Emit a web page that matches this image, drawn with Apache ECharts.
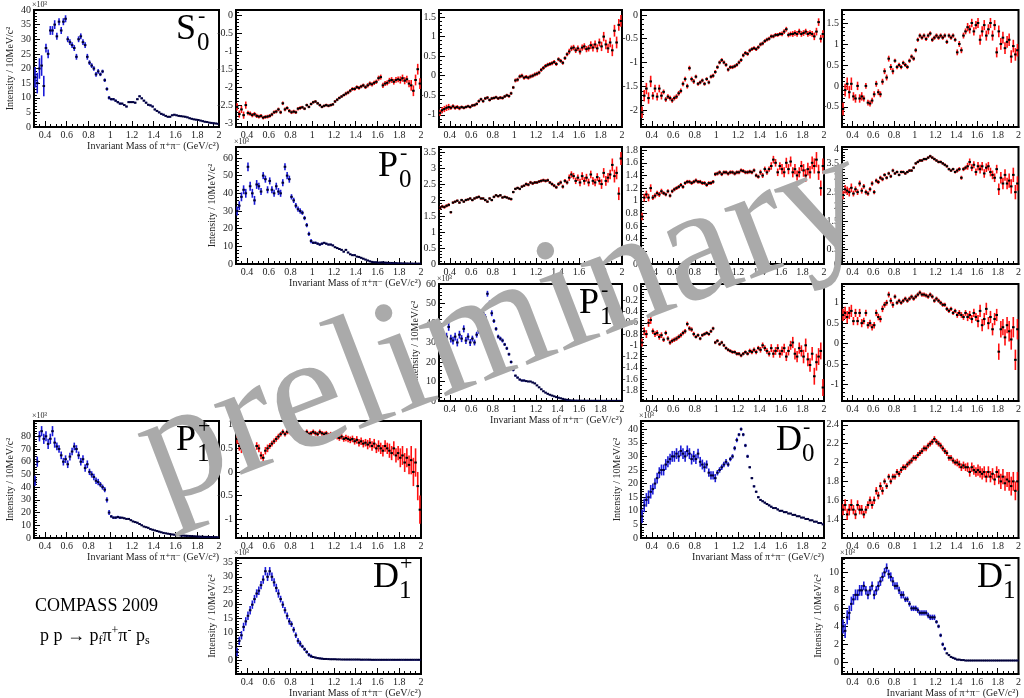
<!DOCTYPE html>
<html>
<head>
<meta charset="utf-8">
<script src="https://cdn.jsdelivr.net/npm/echarts@6.0.0/dist/echarts.min.js"></script>
<style>
html,body{margin:0;padding:0;background:#fff;}
#chart{width:1024px;height:698px;}
</style>
</head>
<body>
<div id="chart"></div>
<script>
// ================= DATA =================
const massBins = [
 0.31,0.33,0.35,0.37,0.39, 0.41,0.43,0.45,0.47,0.49, 0.51,0.53,0.55,0.57,0.59, 0.61,0.63,0.65,0.67,0.69,
 0.71,0.73,0.75,0.77,0.79, 0.81,0.83,0.85,0.87,0.89, 0.91,0.93,0.95,0.97,0.99, 1.01,1.03,1.05,1.07,1.09,
 1.11,1.13,1.15,1.17,1.19, 1.21,1.23,1.25,1.27,1.29, 1.31,1.33,1.35,1.37,1.39, 1.41,1.43,1.45,1.47,1.49,
 1.51,1.53,1.55,1.57,1.59, 1.61,1.63,1.65,1.67,1.69, 1.71,1.73,1.75,1.77,1.79, 1.81,1.83,1.85,1.87,1.89,
 1.91,1.93,1.95,1.97,1.99];
// error-bar half sizes, one per 0.1 GeV segment (0.3-0.4, 0.4-0.5, ... 1.9-2.0)

// S0- intensity (x10^3)
const intS0m = [17,15,20,21,14, 27,25,33,33,35, 31,36,33,36,37, 30,29,28,27,24, 30,31,29,28,24, 22,21,20,18,19,
 18,19,16,13,10, 9.5,9.5,9,8.5,8, 8,7.5,7,8.5,8.5, 8.5,8.3,9.5,10.5,9.8, 9,8.3,7.6,7.4,7, 6,5.5,5,4.5,4.2,
 3.8,3.5,3.5,4,4.2, 4,3.8,3.7,3.6,3.5, 3.3,3,2.8,2.6,2.5, 2.4,2.2,2,1.8,1.7, 1.5,1.4,1.3,1.2,1.1];
const errS0m = [3.5,1.5,1.2,1.0,1.0,0.8,0.6,0.4,0.3,0.3,0.3,0.3,0.25,0.2,0.2,0.2,0.2];

const phR1C2 = [-2.55,-2.75,-2.62,-2.78,-2.5, -2.72,-2.74,-2.78,-2.75,-2.8, -2.82,-2.8,-2.85,-2.83,-2.82, -2.8,-2.76,-2.7,-2.68,-2.62,
 -2.7,-2.45,-2.62,-2.58,-2.66, -2.7,-2.68,-2.7,-2.6,-2.58, -2.56,-2.6,-2.5,-2.55,-2.47, -2.42,-2.4,-2.45,-2.5,-2.55,
 -2.52,-2.5,-2.52,-2.5,-2.48, -2.4,-2.35,-2.3,-2.26,-2.22, -2.18,-2.15,-2.1,-2.05,-2.05, -2.0,-2.02,-1.98,-1.95,-2.0,
 -1.95,-1.9,-1.92,-1.88,-1.85, -1.75,-1.72,-1.95,-1.9,-1.88, -1.82,-1.8,-1.85,-1.8,-1.78, -1.8,-1.75,-1.82,-1.78,-1.9,
 -1.95,-2.1,-1.8,-1.5,-1.9];
const errR1C2 = [0.1,0.06,0.05,0.05,0.05,0.05,0.04,0.04,0.04,0.04,0.05,0.05,0.06,0.07,0.08,0.1,0.15];

const phR1C3 = [-0.95,-0.88,-0.85,-0.82,-0.8, -0.82,-0.78,-0.82,-0.8,-0.83, -0.8,-0.82,-0.8,-0.78,-0.8, -0.76,-0.75,-0.72,-0.65,-0.6,
 -0.65,-0.58,-0.56,-0.62,-0.58, -0.57,-0.55,-0.58,-0.56,-0.57, -0.53,-0.5,-0.52,-0.45,-0.3, -0.12,-0.1,-0.02,0,-0.05,
 -0.03,-0.05,-0.02,0,0.03, 0.05,0.08,0.15,0.2,0.25, 0.28,0.3,0.32,0.35,0.3, 0.42,0.38,0.33,0.45,0.55,
 0.62,0.7,0.72,0.65,0.7, 0.62,0.72,0.75,0.68,0.7, 0.78,0.72,0.8,0.7,0.85, 0.75,1.0,0.8,0.7,0.85,
 0.65,1.15,0.85,1.3,1.4];
const errR1C3 = [0.08,0.05,0.04,0.04,0.04,0.04,0.04,0.05,0.05,0.05,0.05,0.05,0.07,0.08,0.1,0.12,0.15];

const phR1C4 = [-2.05,-1.7,-1.55,-1.75,-1.4, -1.7,-1.55,-1.72,-1.55,-1.7, -1.62,-1.78,-1.72,-1.75,-1.8, -1.75,-1.72,-1.65,-1.6,-1.45,
 -1.35,-1.5,-1.12,-1.35,-1.4, -1.3,-1.45,-1.42,-1.38,-1.45, -1.35,-1.42,-1.3,-1.28,-1.2, -1.1,-1.0,-0.95,-1.0,-1.05,
 -1.15,-1.1,-1.1,-1.08,-1.05, -1.0,-0.95,-0.85,-0.8,-0.82, -0.75,-0.72,-0.7,-0.72,-0.68, -0.62,-0.6,-0.55,-0.52,-0.5,
 -0.45,-0.45,-0.42,-0.42,-0.4, -0.4,-0.35,-0.3,-0.42,-0.4, -0.4,-0.38,-0.4,-0.35,-0.4, -0.38,-0.35,-0.4,-0.38,-0.4,
 -0.45,-0.35,-0.15,-0.5,-0.4];
const errR1C4 = [0.12,0.08,0.05,0.05,0.05,0.04,0.04,0.04,0.04,0.04,0.04,0.04,0.04,0.05,0.06,0.06,0.08];

const phR1C5 = [-0.55,-0.1,0.05,-0.15,0.05, -0.25,-0.3,0,-0.3,-0.25, -0.3,0,-0.4,-0.42,-0.35, -0.2,0.05,-0.15,-0.2,0.1,
 0.35,0.2,0.65,0.45,0.35, 0.6,0.45,0.5,0.45,0.55, 0.5,0.45,0.6,0.7,0.65, 0.85,1.1,1.2,1.15,1.2,
 1.12,1.2,1.25,1.1,1.15, 1.2,1.15,1.2,1.15,1.2, 1.05,1.2,1.15,1.2,1.1, 0.8,1.0,0.85,1.2,1.3,
 1.4,1.35,1.5,1.3,1.45, 1.5,1.1,1.3,1.45,1.2, 1.35,1.5,1.2,1.45,0.8, 1.3,1.0,1.15,0.9,1.05,
 1.1,0.7,0.95,0.75,0.85];
const errR1C5 = [0.15,0.1,0.07,0.07,0.07,0.05,0.05,0.05,0.05,0.05,0.05,0.07,0.1,0.12,0.12,0.14,0.15];

// P0- intensity (x10^3)
const intP0m = [30,33,38,42,40, 55,44,40,36,45, 44,41,50,48,42, 47,42,40,44,41, 40,46,55,50,48, 38,36,33,31,30,
 29,26,22,17,13, 12,12,11.5,11,11.5, 12,11.5,11,11,10.5, 9.5,9,8.5,8,7, 8,6.5,5.5,5,5, 4.2,4,3.5,3,2.5,
 2,1.5,1.2,1,1, 0.8,0.9,1,0.8,0.7, 0.6,0.6,0.5,0.5,0.4, 0.4,0.35,0.3,0.3,0.25, 0.25,0.2,0.2,0.2,0.2];
const errP0m = [2.5,2.5,2.0,2.0,2.0,1.5,1.2,0.7,0.5,0.4,0.4,0.3,0.3,0.2,0.2,0.2,0.2];

const phR2C3 = [1.75,1.8,1.78,1.82,1.85, 1.62,1.92,1.95,1.98,1.92, 2.0,1.95,2.0,2.02,2.05, 2.0,2.05,2.08,2.1,2.05,
 2.05,2.0,1.95,2.05,2.0, 2.1,2.15,2.12,2.15,2.08, 2.1,2.08,2.05,2.03,2.25, 2.35,2.38,2.35,2.42,2.45,
 2.5,2.48,2.55,2.52,2.55, 2.55,2.58,2.6,2.62,2.6, 2.62,2.55,2.5,2.45,2.4, 2.5,2.55,2.42,2.6,2.55,
 2.7,2.8,2.75,2.6,2.7, 2.55,2.75,2.6,2.7,2.55, 2.8,2.6,2.55,2.72,2.6, 2.5,2.85,2.6,2.7,2.8,
 3.1,2.75,2.85,2.2,3.3];
const errR2C3 = [0.05,0.04,0.04,0.04,0.04,0.04,0.04,0.04,0.05,0.05,0.05,0.06,0.1,0.12,0.12,0.15,0.2];

const phR2C4 = [0.75,1.05,1.1,1.05,1.2, 1.05,1.08,1.12,1.1,1.15, 1.12,1.1,1.15,1.08,1.15, 1.18,1.2,1.22,1.25,1.22,
 1.28,1.3,1.3,1.28,1.3, 1.32,1.3,1.3,1.28,1.28, 1.25,1.28,1.28,1.3,1.42, 1.43,1.45,1.42,1.45,1.45,
 1.43,1.45,1.45,1.43,1.45, 1.45,1.48,1.47,1.45,1.45, 1.46,1.45,1.48,1.4,1.38, 1.45,1.4,1.5,1.45,1.5,
 1.55,1.65,1.6,1.45,1.55, 1.5,1.45,1.6,1.5,1.62, 1.45,1.5,1.4,1.45,1.55, 1.48,1.4,1.5,1.45,1.6,
 1.55,1.65,1.45,1.2,1.55];
const errR2C4 = [0.06,0.04,0.03,0.03,0.03,0.03,0.03,0.03,0.03,0.03,0.03,0.04,0.06,0.08,0.08,0.1,0.12];

const phR2C5 = [2.4,2.6,2.55,2.5,2.65, 2.45,2.6,2.5,2.8,2.55, 2.7,2.5,2.45,2.6,2.8, 2.5,2.9,2.85,3.0,2.95,
 3.1,3.0,3.15,3.05,3.25, 3.15,3.2,3.1,3.2,3.2, 3.15,3.2,3.25,3.25,3.35, 3.5,3.55,3.6,3.6,3.65,
 3.65,3.7,3.75,3.7,3.65, 3.6,3.55,3.55,3.5,3.45, 3.4,3.3,3.25,3.3,3.2, 3.25,3.3,3.0,3.3,3.35,
 3.4,3.55,3.35,3.45,3.2, 3.4,3.3,3.4,3.15,3.35, 3.4,3.2,3.1,3.0,3.3, 2.6,3.0,2.8,3.1,2.8,
 2.9,2.7,3.1,2.5,2.8];
const errR2C5 = [0.15,0.1,0.08,0.07,0.06,0.05,0.05,0.05,0.05,0.05,0.05,0.07,0.12,0.15,0.15,0.2,0.25];

// P1- intensity (x10^3)
const intP1m = [26,32,30,33,38, 32,31,33,30,34, 32,37,31,33,30, 32,30,34,36,42, 45,43,55,50,45, 41,37,33,32,31,
 29,27,24,20,16, 13,12,11,10.5,10.5, 10.2,10,10,9.5,9, 8,7,6,5,4.3, 3.7,3.2,2.8,2.4,2.0, 1.7,1.4,1.1,0.8,0.6,
 0.4,0.3,0.25,0.2,0.18, 0.15,0.15,0.12,0.12,0.1, 0.1,0.1,0.1,0.08,0.08, 0.08,0.07,0.07,0.06,0.06, 0.06,0.05,0.05,0.05,0.05];
const errP1m = [2.0,2.0,1.8,1.5,1.5,1.0,0.8,0.5,0.3,0.3,0.2,0.2,0.15,0.1,0.1,0.1,0.1];

const phR3C4 = [-0.95,-0.75,-0.8,-0.6,-0.55, -0.75,-0.8,-0.78,-0.85,-0.82, -0.9,-0.78,-0.88,-0.95,-0.92, -0.9,-0.88,-0.85,-0.82,-0.78,
 -0.75,-0.62,-0.7,-0.72,-0.8, -0.85,-0.82,-0.88,-0.82,-0.8, -0.78,-0.8,-0.75,-0.7,-0.95, -0.92,-0.98,-0.95,-1.0,-1.05,
 -1.08,-1.1,-1.12,-1.12,-1.15, -1.15,-1.18,-1.15,-1.12,-1.15, -1.1,-1.12,-1.08,-1.12,-1.05, -1.08,-1.0,-1.05,-1.1,-1.15,
 -1.05,-1.15,-1.1,-1.05,-1.15, -1.1,-1.05,-1.2,-1.1,-1.0, -0.95,-1.15,-1.2,-1.05,-1.1, -1.2,-1.0,-1.25,-1.35,-1.15,
 -1.55,-1.3,-1.2,-1.1,-1.75];
const errR3C4 = [0.07,0.05,0.04,0.04,0.04,0.03,0.03,0.03,0.03,0.03,0.04,0.05,0.07,0.08,0.1,0.12,0.15];

const phR3C5 = [0.7,0.75,0.65,0.75,0.8, 0.55,0.75,0.55,0.75,0.5, 0.55,0.75,0.45,0.5,0.4, 0.45,0.75,0.65,0.6,0.85,
 0.95,1.0,1.2,1.05,0.95, 1.15,1.0,1.05,1.0,1.05, 1.1,1.05,1.1,1.15,1.1, 1.15,1.2,1.25,1.2,1.2,
 1.18,1.15,1.2,1.15,1.05, 1.1,1.05,1.0,0.95,0.95, 0.85,0.8,0.85,0.75,0.8, 0.7,0.75,0.7,0.65,0.75,
 0.65,0.7,0.6,0.75,0.65, 0.55,0.8,0.45,0.6,0.85, 0.5,0.65,0.35,0.6,0.7, -0.2,0.35,0.4,0.15,0.45,
 0.3,0.1,0.4,-0.4,0.35];
const errR3C5 = [0.15,0.1,0.08,0.08,0.07,0.05,0.05,0.05,0.05,0.05,0.05,0.07,0.1,0.15,0.15,0.2,0.25];

// P1+ intensity (x10^3)
const intP1p = [45,60,80,84,78, 80,74,78,84,75, 72,70,65,60,62, 58,64,68,72,70, 65,60,62,55,58, 52,50,48,45,44,
 42,40,38,30,20, 17,16,16,16.5,16, 16,15.5,15,15,14, 13,12.5,12,11,10, 9,8.5,8,7,6.5, 6,5.5,5,4.5,4,
 3.7,3.4,3.1,2.8,2.6, 2.4,2.2,2,1.9,1.8, 1.7,1.6,1.5,1.4,1.3, 1.2,1.1,1.0,0.9,0.9, 0.8,0.8,0.7,0.7,0.6];
const errP1p = [4,4,3,3,3,2.5,2,1,0.6,0.5,0.4,0.3,0.3,0.2,0.2,0.2,0.2];

const phR4C2 = [0.7,0.55,0.5,0.6,0.55, 0.45,0.6,0.5,0.4,0.55, 0.5,0.35,0.3,0.45,0.5, 0.55,0.6,0.65,0.7,0.75,
 0.8,0.85,0.8,0.85,0.85, 0.82,0.8,0.85,0.82,0.85, 0.8,0.82,0.85,0.8,0.82, 0.85,0.82,0.8,0.85,0.82,
 0.8,0.82,0.78,0.8,0.75, 0.78,0.75,0.72,0.75,0.7, 0.72,0.7,0.68,0.7,0.65, 0.68,0.62,0.65,0.6,0.62,
 0.58,0.62,0.55,0.6,0.5, 0.55,0.5,0.45,0.55,0.5, 0.45,0.4,0.5,0.35,0.4, 0.3,0.35,0.2,0.3,0.15,
 0.25,0.0,0.2,-0.3,-0.8];
const errR4C2 = [0.1,0.08,0.08,0.06,0.05,0.05,0.05,0.05,0.05,0.06,0.07,0.08,0.1,0.12,0.15,0.2,0.3];

// D0- intensity (x10^3)
const intD0m = [8,12,14,15,17, 18,20,22,24,25, 25,27,28,29,30, 30,31,30,32,31, 30,32,31,29,30, 29,31,28,27,26,
 27,24,23,23,22, 24,25,26,27,28, 27,29,30,33,36, 38,40,38,34,30, 26,22,19,17,15, 14,13.5,13,12.5,12,
 11.5,11,11,10.5,10, 10,9.5,9.5,9,9, 8.5,8.5,8,8,7.5, 7.5,7,7,6.5,6.5, 6,6,5.5,5.5,5];
const errD0m = [2.5,2,2,2,2,1.8,1.5,1,0.8,0.6,0.4,0.3,0.3,0.2,0.2,0.2,0.2];

const phR4C5 = [1.5,1.55,1.45,1.5,1.55, 1.5,1.45,1.55,1.5,1.5, 1.45,1.5,1.55,1.6,1.55, 1.6,1.7,1.65,1.75,1.7,
 1.8,1.75,1.85,1.8,1.85, 1.85,1.9,1.88,1.92,1.95, 1.95,1.98,2.0,2.02,2.05, 2.05,2.08,2.1,2.12,2.15,
 2.15,2.18,2.2,2.22,2.25, 2.22,2.2,2.18,2.15,2.12, 2.1,2.05,2.05,2.02,2.0, 2.0,1.98,1.95,1.97,1.95,
 1.95,1.9,1.95,1.92,1.9, 1.92,1.9,1.88,1.9,1.85, 1.9,1.85,1.88,1.82,1.9, 1.85,1.8,1.85,1.78,1.82,
 1.8,1.75,1.8,1.7,1.8];
const errR4C5 = [0.06,0.05,0.04,0.04,0.03,0.03,0.03,0.03,0.03,0.03,0.03,0.04,0.05,0.06,0.06,0.08,0.1];

// D1+ intensity (x10^3)
const intD1p = [3,7,9,12,14, 16,18,20,22,24, 25,27,29,32,30, 32,30,28,26,24, 22,20,18,16,14, 13,11,9,7,6,
 5,4,3,2,1.5, 1.2,1,0.8,0.7,0.6, 0.5,0.5,0.45,0.4,0.4, 0.4,0.35,0.35,0.3,0.3, 0.3,0.3,0.3,0.3,0.3, 0.3,0.3,0.25,0.25,0.25,
 0.25,0.25,0.2,0.2,0.2, 0.2,0.2,0.2,0.2,0.2, 0.2,0.2,0.2,0.2,0.2, 0.2,0.2,0.2,0.2,0.2, 0.2,0.2,0.2,0.2,0.2];
const errD1p = [1.5,1.5,1.5,1.5,1.2,1.0,0.6,0.3,0.2,0.15,0.1,0.1,0.1,0.1,0.1,0.1,0.1];

// D1- intensity (x10^3)
const intD1m = [4,3.5,5,5.5,6.5, 7,7.5,7.5,8,8, 8.5,8,7.5,8,8.5, 7.5,8,8.5,9,9.5, 10,10.5,9.8,9.5,9, 8.5,8.5,8,7.5,7.5,
 7,7,6.5,6,6, 6,5.8,5.5,5.5,5.5, 5.5,5.2,5,5,5, 4.5,4,3,2,1.5, 1,0.8,0.6,0.5,0.4, 0.3,0.3,0.25,0.25,0.2,
 0.2,0.2,0.2,0.2,0.2, 0.2,0.2,0.2,0.2,0.2, 0.2,0.2,0.2,0.2,0.2, 0.2,0.2,0.2,0.2,0.2, 0.2,0.2,0.2,0.2,0.2];
const errD1m = [0.8,0.6,0.5,0.5,0.5,0.4,0.3,0.3,0.3,0.2,0.1,0.05,0.05,0.05,0.05,0.05,0.05];

// tick labels
const xTickLabels = [0.4,0.6,0.8,1,1.2,1.4,1.6,1.8,2];
const yTicksS0m = [0,5,10,15,20,25,30,35,40];
const yTicksR1C2 = [-3,-2.5,-2,-1.5,-1,-0.5,0];
const yTicksR1C3 = [-1,-0.5,0,0.5,1,1.5];
const yTicksR1C4 = [-2,-1.5,-1,-0.5,0];
const yTicksR1C5 = [-0.5,0,0.5,1,1.5];
const yTicksP0m = [0,10,20,30,40,50,60];
const yTicksR2C3 = [0,0.5,1,1.5,2,2.5,3,3.5];
const yTicksR2C4 = [0,0.2,0.4,0.6,0.8,1,1.2,1.4,1.6,1.8];
const yTicksR2C5 = [0,0.5,1,1.5,2,2.5,3,3.5,4];
const yTicksP1m = [0,10,20,30,40,50,60];
const yTicksR3C4 = [-1.8,-1.6,-1.4,-1.2,-1,-0.8,-0.6,-0.4,-0.2,0];
const yTicksR3C5 = [-1,-0.5,0,0.5,1];
const yTicksP1p = [0,10,20,30,40,50,60,70,80];
const yTicksR4C2 = [-1,-0.5,0,0.5,1];
const yTicksD0m = [0,5,10,15,20,25,30,35,40];
const yTicksR4C5 = [1.4,1.6,1.8,2,2.2,2.4];
const yTicksD1p = [0,5,10,15,20,25,30,35];
const yTicksD1m = [0,2,4,6,8,10];

// ================= LAYOUT =================
const colLeft = [34,236,439,641,842], colWidth = [185,185,183,183,183];
const rowTop = [10,147,284,421,558], rowHeight = 117;
const panels = [
 {r:0,c:0,kind:'int',data:intS0m,err:errS0m,yMin:0,yMax:40,yT:yTicksS0m,yMinor:1,lab:['S','0','-']},
 {r:0,c:1,kind:'ph',data:phR1C2,err:errR1C2,yMin:-3.11,yMax:0.15,yT:yTicksR1C2,yMinor:0.1},
 {r:0,c:2,kind:'ph',data:phR1C3,err:errR1C3,yMin:-1.31,yMax:1.68,yT:yTicksR1C3,yMinor:0.1},
 {r:0,c:3,kind:'ph',data:phR1C4,err:errR1C4,yMin:-2.36,yMax:0.105,yT:yTicksR1C4,yMinor:0.1},
 {r:0,c:4,kind:'ph',data:phR1C5,err:errR1C5,yMin:-0.98,yMax:1.81,yT:yTicksR1C5,yMinor:0.1},
 {r:1,c:1,kind:'int',data:intP0m,err:errP0m,yMin:0,yMax:66.2,yT:yTicksP0m,yMinor:2,lab:['P','0','-']},
 {r:1,c:2,kind:'ph',data:phR2C3,err:errR2C3,yMin:0,yMax:3.66,yT:yTicksR2C3,yMinor:0.1},
 {r:1,c:3,kind:'ph',data:phR2C4,err:errR2C4,yMin:0,yMax:1.85,yT:yTicksR2C4,yMinor:0.05},
 {r:1,c:4,kind:'ph',data:phR2C5,err:errR2C5,yMin:0,yMax:4.07,yT:yTicksR2C5,yMinor:0.1},
 {r:2,c:2,kind:'int',data:intP1m,err:errP1m,yMin:0,yMax:60,yT:yTicksP1m,yMinor:2,lab:['P','1','-']},
 {r:2,c:3,kind:'ph',data:phR3C4,err:errR3C4,yMin:-1.99,yMax:0.09,yT:yTicksR3C4,yMinor:0.05},
 {r:2,c:4,kind:'ph',data:phR3C5,err:errR3C5,yMin:-1.41,yMax:1.46,yT:yTicksR3C5,yMinor:0.1},
 {r:3,c:0,kind:'int',data:intP1p,err:errP1p,yMin:0,yMax:92,yT:yTicksP1p,yMinor:2,lab:['P','1','+']},
 {r:3,c:1,kind:'ph',data:phR4C2,err:errR4C2,yMin:-1.4,yMax:1.08,yT:yTicksR4C2,yMinor:0.1},
 {r:3,c:3,kind:'int',data:intD0m,err:errD0m,yMin:0,yMax:43,yT:yTicksD0m,yMinor:1,lab:['D','0','-']},
 {r:3,c:4,kind:'ph',data:phR4C5,err:errR4C5,yMin:1.2,yMax:2.44,yT:yTicksR4C5,yMinor:0.05},
 {r:4,c:1,kind:'int',data:intD1p,err:errD1p,yMin:-4.9,yMax:36.75,yT:yTicksD1p,yMinor:1,lab:['D','1','+']},
 {r:4,c:4,kind:'int',data:intD1m,err:errD1m,yMin:-1.3,yMax:11.6,yT:yTicksD1m,yMinor:0.5,lab:['D','1','-']}
];
const letterWidth = {S:21, P:21, D:26};

const FONT = "'Liberation Serif','DejaVu Serif',serif";
function fmt(v){ return String(Math.round(v*1000)/1000); }
function minorVals(min, max, step, majors){
  const out = [];
  const start = Math.ceil(min/step - 1e-6);
  const end = Math.floor(max/step + 1e-6);
  for (let k = start; k <= end; k++) {
    const v = Math.round(k*step*10000)/10000;
    if (!majors.some(m => Math.abs(m - v) < 1e-6)) out.push(v);
  }
  return out;
}
function makeRender(barColor, markColor){
  return function(params, api){
    const x = api.value(0), y = api.value(1), e = api.value(2);
    const c = api.coord([x, y]);
    const t = api.coord([x, y + e]);
    const b = api.coord([x, y - e]);
    return {type:'group', children:[
      {type:'rect', shape:{x:c[0]-0.8, y:t[1], width:1.6, height:Math.max(1, b[1]-t[1])}, style:{fill:barColor}},
      {type:'rect', shape:{x:c[0]-1.3, y:c[1]-1, width:2.6, height:2}, style:{fill:markColor}}
    ]};
  };
}

const grids = [], xAxes = [], yAxes = [], series = [], graphics = [];
const xMinor = minorVals(0.3, 2.0, 0.05, xTickLabels);

panels.forEach((p, i) => {
  const left = colLeft[p.c], top = rowTop[p.r], w = colWidth[p.c], h = rowHeight;
  grids.push({left:left, top:top, width:w, height:h, show:true, borderColor:'#000', borderWidth:2});
  const isInt = p.kind === 'int';
  xAxes.push({
    gridIndex:i, type:'value', position:'bottom', min:0.3, max:2.0,
    axisLine:{show:true, onZero:false, lineStyle:{color:'#000', width:2}},
    axisTick:{show:true, inside:true, length:6, customValues:xTickLabels, lineStyle:{color:'#000', width:1}},
    axisLabel:{show:true, customValues:xTickLabels, formatter:fmt, fontFamily:FONT, fontSize:10, color:'#222', margin:3},
    splitLine:{show:false},
    name: isInt ? 'Invariant Mass of \u03c0\u207a\u03c0\u207b (GeV/c\u00b2)' : '',
    nameLocation:'end', nameGap:0,
    nameTextStyle:{fontFamily:FONT, fontSize:10, color:'#222', align:'right', verticalAlign:'top', padding:[14,0,0,0]}
  });
  xAxes.push({
    gridIndex:i, type:'value', position:'bottom', min:0.3, max:2.0,
    axisLine:{show:false, onZero:false},
    axisTick:{show:true, inside:true, length:3, customValues:xMinor, lineStyle:{color:'#000', width:1}},
    axisLabel:{show:false}, splitLine:{show:false}
  });
  yAxes.push({
    gridIndex:i, type:'value', position:'left', min:p.yMin, max:p.yMax,
    axisLine:{show:true, onZero:false, lineStyle:{color:'#000', width:2}},
    axisTick:{show:true, inside:true, length:6, customValues:p.yT, lineStyle:{color:'#000', width:1}},
    axisLabel:{show:true, customValues:p.yT, formatter:fmt, fontFamily:FONT, fontSize:10, color:'#222', margin:3},
    splitLine:{show:false},
    name: isInt ? 'Intensity / 10MeV/c\u00b2' : '',
    nameLocation:'middle', nameGap:19, nameRotate:90,
    nameTextStyle:{fontFamily:FONT, fontSize:10, color:'#222'}
  });
  yAxes.push({
    gridIndex:i, type:'value', position:'left', min:p.yMin, max:p.yMax,
    axisLine:{show:false, onZero:false},
    axisTick:{show:true, inside:true, length:3, customValues:minorVals(p.yMin, p.yMax, p.yMinor, p.yT), lineStyle:{color:'#000', width:1}},
    axisLabel:{show:false}, splitLine:{show:false}
  });
  const pts = massBins.map((m, k) => [m, p.data[k], p.err[Math.min(16, Math.floor((m - 0.3)/0.1 + 1e-9))]]);
  series.push({
    type:'custom', xAxisIndex:2*i, yAxisIndex:2*i, data:pts, clip:true, silent:true, animation:false,
    renderItem: isInt ? makeRender('#1a1ad8', '#00003a') : makeRender('#ff1010', '#000000')
  });
  if (isInt) {
    graphics.push({type:'text', x:left-2, y:top-5, style:{text:'\u00d710\u00b3', font:'8px '+FONT, fill:'#222', verticalAlign:'middle'}});
    const R = left + w;
    const lw = letterWidth[p.lab[0]];
    const lx = R - 22 - lw;
    graphics.push({type:'text', x:lx, y:top+20, z:150, style:{text:p.lab[0], font:'36px '+FONT, fill:'#000', verticalAlign:'middle', align:'left'}});
    graphics.push({type:'text', x:lx+lw, y:top+33, z:150, style:{text:p.lab[1], font:'25px '+FONT, fill:'#000', verticalAlign:'middle', align:'left'}});
    graphics.push({type:'text', x:lx+lw+1, y:top+6, z:150, style:{text:p.lab[2], font:'22px '+FONT, fill:'#000', verticalAlign:'middle', align:'left'}});
  }
});

graphics.push({type:'text', x:35, y:606, style:{text:'COMPASS 2009', font:'18px '+FONT, fill:'#000', verticalAlign:'middle'}});
graphics.push({type:'text', x:40, y:636, style:{
  text:'{a|p p \u2192 p}{b|f}{a|\u03c0}{c|+}{a|\u03c0}{c|-}{a| p}{b|s}', verticalAlign:'middle',
  rich:{a:{fontFamily:FONT, fontSize:18, lineHeight:22, fill:'#000'},
        b:{fontFamily:FONT, fontSize:12, lineHeight:12, verticalAlign:'bottom', fill:'#000'},
        c:{fontFamily:FONT, fontSize:12, lineHeight:12, verticalAlign:'top', fill:'#000'}}
}});
graphics.push({type:'text', x:503, y:328, rotation:21*Math.PI/180, z:100, silent:true,
  style:{text:'preliminary', font:'164px '+FONT, fill:'#aaaaaa', align:'center', verticalAlign:'middle'}});

const chart = echarts.init(document.getElementById('chart'), null, {renderer:'canvas'});
chart.setOption({
  animation:false, backgroundColor:'#fff',
  grid:grids, xAxis:xAxes, yAxis:yAxes, series:series,
  graphic:{elements:graphics}
});
</script>
</body>
</html>
